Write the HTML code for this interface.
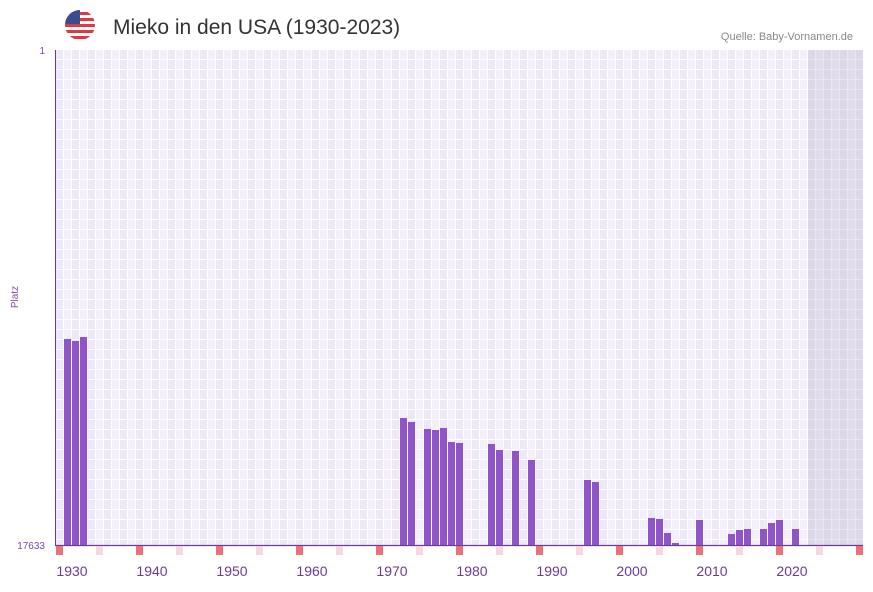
<!DOCTYPE html>
<html><head><meta charset="utf-8"><style>
body{margin:0;background:#fff;width:873px;height:587px;overflow:hidden;font-family:"Liberation Sans",sans-serif}
</style></head><body>
<svg width="873" height="587" xmlns="http://www.w3.org/2000/svg">
<defs>
<pattern id="g" x="56" y="50" width="16" height="10" patternUnits="userSpaceOnUse">
<rect width="16" height="10" fill="#fff"/>
<rect x="0" y="0" width="7" height="9" fill="#ede8f8"/>
<rect x="8" y="0" width="7" height="9" fill="#f3f0fb"/>
</pattern>
<clipPath id="fc"><circle cx="80" cy="25" r="15"/></clipPath>
</defs>
<g clip-path="url(#fc)">
<rect x="65" y="10" width="30" height="30" fill="#fff"/>
<rect x="65" y="12" width="30" height="3" fill="#e0393e"/>
<rect x="65" y="18" width="30" height="3" fill="#e0393e"/>
<rect x="65" y="24" width="30" height="3" fill="#e0393e"/>
<rect x="65" y="30" width="30" height="3" fill="#e0393e"/>
<rect x="65" y="36" width="30" height="3" fill="#e0393e"/>
<rect x="65" y="10" width="15" height="14" fill="#3c4a8f"/>
</g>
<text x="113" y="34" font-size="21" fill="#333">Mieko in den USA (1930-2023)</text>
<text x="853" y="40" font-size="11" fill="#888" text-anchor="end">Quelle: Baby-Vornamen.de</text>
<rect x="56" y="50" width="807" height="495" fill="url(#g)"/>
<rect x="808" y="50" width="55" height="495" fill="#b8b0c8" opacity="0.3"/>
<line x1="55.5" y1="50" x2="55.5" y2="545" stroke="#6a3a9a" stroke-width="1"/>
<line x1="55" y1="545.5" x2="863" y2="545.5" stroke="#6a3a9a" stroke-width="1.2"/>
<text x="45" y="54" font-size="10" fill="#7a4aa0" text-anchor="end">1</text>
<text x="45" y="549" font-size="10" fill="#7a4aa0" text-anchor="end">17633</text>
<text x="18" y="297" font-size="10" fill="#7a4aa0" text-anchor="middle" transform="rotate(-90 18 297)">Platz</text>
<g fill="#8e54c8">
<rect x="64" y="339" width="7" height="206"/>
<rect x="72" y="341" width="7" height="204"/>
<rect x="80" y="337" width="7" height="208"/>
<rect x="400" y="418" width="7" height="127"/>
<rect x="408" y="422" width="7" height="123"/>
<rect x="424" y="429" width="7" height="116"/>
<rect x="432" y="430" width="7" height="115"/>
<rect x="440" y="428" width="7" height="117"/>
<rect x="448" y="442" width="7" height="103"/>
<rect x="456" y="443" width="7" height="102"/>
<rect x="488" y="444" width="7" height="101"/>
<rect x="496" y="450" width="7" height="95"/>
<rect x="512" y="451" width="7" height="94"/>
<rect x="528" y="460" width="7" height="85"/>
<rect x="584" y="480" width="7" height="65"/>
<rect x="592" y="482" width="7" height="63"/>
<rect x="648" y="518" width="7" height="27"/>
<rect x="656" y="519" width="7" height="26"/>
<rect x="664" y="533" width="7" height="12"/>
<rect x="672" y="543" width="7" height="2"/>
<rect x="696" y="520" width="7" height="25"/>
<rect x="728" y="534" width="7" height="11"/>
<rect x="736" y="530" width="7" height="15"/>
<rect x="744" y="529" width="7" height="16"/>
<rect x="760" y="529" width="7" height="16"/>
<rect x="768" y="523" width="7" height="22"/>
<rect x="776" y="520" width="7" height="25"/>
<rect x="792" y="529" width="7" height="16"/>
</g>
<g fill="#e8727a">
<rect x="56" y="546" width="7" height="9"/><rect x="136" y="546" width="7" height="9"/><rect x="216" y="546" width="7" height="9"/><rect x="296" y="546" width="7" height="9"/><rect x="376" y="546" width="7" height="9"/><rect x="456" y="546" width="7" height="9"/><rect x="536" y="546" width="7" height="9"/><rect x="616" y="546" width="7" height="9"/><rect x="696" y="546" width="7" height="9"/><rect x="776" y="546" width="7" height="9"/><rect x="856" y="546" width="7" height="9"/>
</g>
<g fill="#f5d8e0">
<rect x="96" y="546" width="7" height="9"/><rect x="176" y="546" width="7" height="9"/><rect x="256" y="546" width="7" height="9"/><rect x="336" y="546" width="7" height="9"/><rect x="416" y="546" width="7" height="9"/><rect x="496" y="546" width="7" height="9"/><rect x="576" y="546" width="7" height="9"/><rect x="656" y="546" width="7" height="9"/><rect x="736" y="546" width="7" height="9"/><rect x="816" y="546" width="7" height="9"/>
</g>
<g font-size="14" fill="#6a3a9a" text-anchor="middle">
<text x="72" y="576">1930</text><text x="152" y="576">1940</text><text x="232" y="576">1950</text><text x="312" y="576">1960</text><text x="392" y="576">1970</text><text x="472" y="576">1980</text><text x="552" y="576">1990</text><text x="632" y="576">2000</text><text x="712" y="576">2010</text><text x="792" y="576">2020</text>
</g>
</svg>
</body></html>
